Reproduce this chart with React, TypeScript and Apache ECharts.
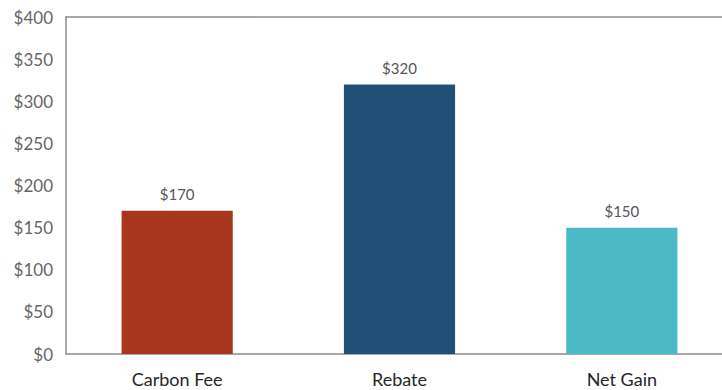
import React, { useEffect, useRef } from "react";
import * as echarts from "echarts";

const categories = ["Carbon Fee", "Rebate", "Net Gain"];
const values = [170, 320, 150];
const colors = ["#A8361F", "#224F75", "#4BB9C6"];
const yTicks = [0, 50, 100, 150, 200, 250, 300, 350, 400];

export default function App() {
  const ref = useRef<HTMLDivElement>(null);
  useEffect(() => {
    if (!ref.current) return;
    const chart = echarts.init(ref.current, null, { renderer: "svg" });
    chart.setOption({
      animation: false,
      grid: { left: 66, right: 0, top: 17, bottom: 36 },
      xAxis: [
        {
          type: "category",
          data: categories,
          axisLine: { lineStyle: { color: "#8c8c8c", width: 1.5 } },
          axisTick: { show: false },
          axisLabel: { color: "#262626", fontSize: 18, fontFamily: "Lato", margin: 16 },
        },
        {
          type: "category",
          position: "top",
          data: categories,
          axisLine: { lineStyle: { color: "#8c8c8c", width: 1.5 } },
          axisTick: { show: false },
          axisLabel: { show: false },
        },
      ],
      yAxis: {
        type: "value",
        min: yTicks[0],
        max: yTicks[yTicks.length - 1],
        interval: 50,
        axisLine: { show: true, lineStyle: { color: "#8c8c8c", width: 1.5 } },
        axisTick: { show: false },
        splitLine: { show: false },
        axisLabel: {
          color: "#666666",
          fontSize: 17,
          fontFamily: "Lato",
          margin: 13,
          formatter: (v: number) => "$" + v,
        },
      },
      series: [
        {
          type: "bar",
          barWidth: "50%",
          data: values.map((v, i) => ({ value: v, itemStyle: { color: colors[i] } })),
          label: {
            show: true,
            position: "top",
            distance: 9,
            color: "#555555",
            fontSize: 15,
            fontFamily: "Lato",
            formatter: (p: any) => "$" + p.value,
          },
        },
      ],
    });
    return () => chart.dispose();
  }, []);
  return (
    <div
      ref={ref}
      style={{ position: "fixed", left: 0, top: 0, width: 733, height: 390, background: "#fff" }}
    />
  );
}
